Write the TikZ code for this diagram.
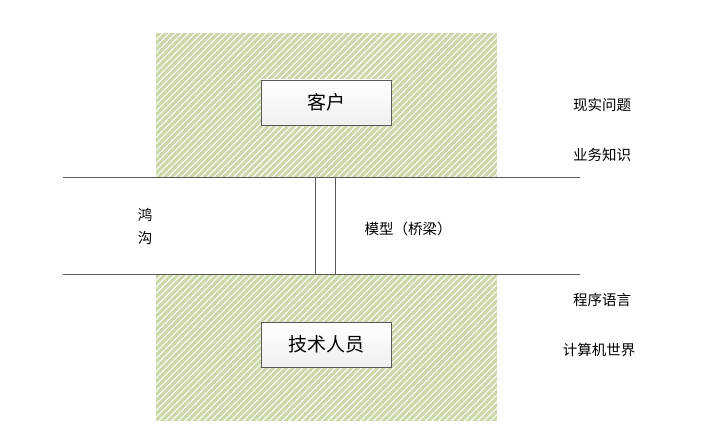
\documentclass[tikz,border=0pt]{standalone}
\usepackage{fontspec}
\setmainfont{Noto Sans CJK SC}
\usetikzlibrary{patterns.meta}
\definecolor{hatchgreen}{RGB}{204,216,170}
\definecolor{linegray}{RGB}{90,90,90}
\tikzset{
  zone/.style={fill=hatchgreen, postaction={pattern={Lines[angle=45,distance=4.6pt,line width=1.1pt]}, pattern color=white!94!hatchgreen}},
  rolebox/.style={draw=linegray, line width=0.8pt, top color=white, bottom color=gray!12, minimum width=130pt, minimum height=45pt, inner sep=0pt, font=\fontsize{19}{22}\selectfont},
  label/.style={font=\fontsize{14.5}{16}\selectfont, inner sep=0pt},
  edge/.style={draw=linegray, line width=0.8pt}
}
\begin{document}
\begin{tikzpicture}[x=1pt,y=-1pt]
\useasboundingbox (0,0) rectangle (711,430);
\fill[white] (0,0) rectangle (711,430);
\path[zone] (156,33) rectangle (497,178);
\path[zone] (156,275) rectangle (497,421);
\coordinate (tl) at (63,177);
\coordinate (tr) at (580,177);
\coordinate (bl) at (63,274);
\coordinate (br) at (580,274);
\coordinate (v1t) at (315,177);
\coordinate (v1b) at (315,274);
\coordinate (v2t) at (335,177);
\coordinate (v2b) at (335,274);
\draw[edge] (tl) -- (tr);
\draw[edge] (bl) -- (br);
\draw[edge] (v1t) -- (v1b);
\draw[edge] (v2t) -- (v2b);
\node[rolebox] (client) at (326,102.5) {客户};
\node[rolebox] (tech) at (326,344.5) {技术人员};
\node[label] (h1) at (145,215) {鸿};
\node[label] (h2) at (145,238) {沟};
\node[label] (model) at (408,229) {模型（桥梁）};
\node[label] (r1) at (602,105) {现实问题};
\node[label] (r2) at (602,155) {业务知识};
\node[label] (r3) at (602,300) {程序语言};
\node[label] (r4) at (599,350) {计算机世界};
\end{tikzpicture}
\end{document}
